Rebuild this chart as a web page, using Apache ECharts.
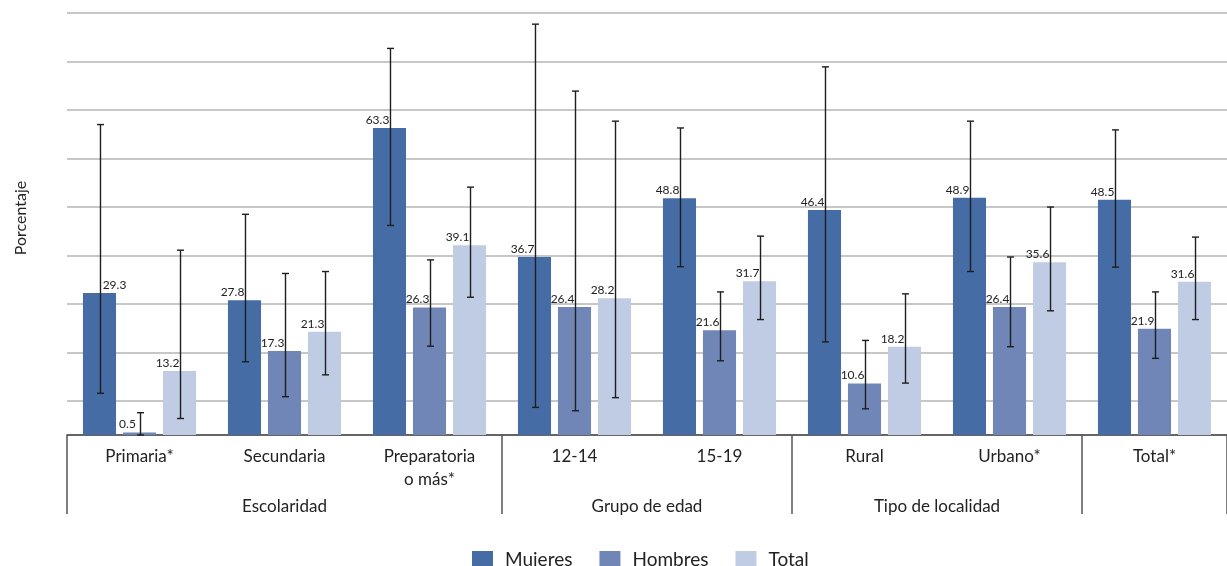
<!DOCTYPE html>
<html>
<head>
<meta charset="utf-8">
<script src="https://cdn.jsdelivr.net/npm/echarts@6/dist/echarts.min.js"></script>
<style>
html,body{margin:0;padding:0;background:#fff;}
#chart{width:1227px;height:566px;}
</style>
</head>
<body>
<div id="chart"></div>
<script>
// ---- data ----
var categories = ['Primaria*', 'Secundaria', 'Preparatoria\no más*', '12-14', '15-19', 'Rural', 'Urbano*', 'Total*'];
var groupNames = ['Escolaridad', 'Grupo de edad', 'Tipo de localidad', ''];
var groupSizes = [3, 2, 2, 1];
var seriesNames = ['Mujeres', 'Hombres', 'Total'];

var mujeres = [29.3, 27.8, 63.3, 36.7, 48.8, 46.4, 48.9, 48.5];
var hombres = [0.5, 17.3, 26.3, 26.4, 21.6, 10.6, 26.4, 21.9];
var total   = [13.2, 21.3, 39.1, 28.2, 31.7, 18.2, 35.6, 31.6];

var mujeresLow  = [8.6, 15.1, 43.2, 5.7, 34.7, 19.2, 33.7, 34.6];
var mujeresHigh = [64.0, 45.5, 79.7, 84.7, 63.3, 75.9, 64.7, 62.9];
var hombresLow  = [0.0, 7.9, 18.3, 5.0, 15.3, 5.4, 18.2, 15.8];
var hombresHigh = [4.6, 33.3, 36.1, 70.9, 29.5, 19.5, 36.7, 29.5];
var totalLow    = [3.4, 12.4, 28.4, 7.7, 23.8, 10.7, 25.6, 23.8];
var totalHigh   = [38.1, 33.7, 51.1, 64.7, 41.0, 29.1, 47.0, 40.8];

var gridLevels = [7, 17, 27, 37, 47, 57, 67, 77, 87];
var yMax = 87;

// ---- build ----
var colors = ['#466ca5', '#7086b7', '#c0cbe4'];
var FONT = 'Lato, "Open Sans", sans-serif';
var catGap = 0.22, barGapR = 0.21;

var boundaries = [0], centers = [];
(function(){
  var acc = 0;
  groupSizes.forEach(function(s){ centers.push(acc + s / 2); acc += s; boundaries.push(acc); });
})();

var errData = [];
[[mujeresLow, mujeresHigh], [hombresLow, hombresHigh], [totalLow, totalHigh]].forEach(function(p, k){
  p[0].forEach(function(lo, i){ errData.push([i, lo, p[1][i], k]); });
});

var labelCfg = {
  show: true, position: 'top', distance: 2, offset: [-12, 0],
  fontFamily: FONT, fontSize: 12, color: '#222'
};

function barSeries(name, values, color, idx) {
  return {
    name: name, type: 'bar', z: 2,
    barCategoryGap: (catGap * 100) + '%', barGap: (barGapR * 100) + '%',
    itemStyle: { color: color },
    label: labelCfg,
    data: values.map(function(v, i){
      if (idx === 0 && i === 0) return { value: v, label: { offset: [15, 0] } };
      return v;
    })
  };
}

var chart = echarts.init(document.getElementById('chart'));
chart.setOption({
  animation: false,
  textStyle: { fontFamily: FONT },
  color: colors,
  grid: { left: 67, right: 0, top: 13, bottom: 131, containLabel: false, outerBoundsMode: 'none' },
  legend: {
    data: seriesNames, top: 545, left: 467,
    icon: 'rect', itemWidth: 21, itemHeight: 17, itemGap: 27,
    textStyle: { fontSize: 19, color: '#222', fontFamily: FONT, padding: [0, 0, 0, 7] }
  },
  xAxis: [{
    type: 'category', data: categories, position: 'bottom',
    axisLine: { show: true, lineStyle: { color: '#333', width: 1.5 } },
    axisTick: { show: false },
    axisLabel: { interval: 0, margin: 10, fontSize: 17, color: '#222', lineHeight: 23, fontFamily: FONT }
  }, {
    type: 'value', position: 'bottom', min: 0, max: categories.length,
    axisLine: { show: false }, splitLine: { show: false },
    axisTick: { show: true, customValues: boundaries, length: 79, lineStyle: { color: '#555', width: 1.5 } },
    axisLabel: {
      customValues: centers, margin: 63, fontSize: 17, color: '#222', fontFamily: FONT,
      formatter: function(v){ var i = centers.indexOf(v); return i >= 0 ? groupNames[i] : ''; }
    }
  }],
  yAxis: {
    type: 'value', min: 0, max: yMax,
    name: 'Porcentaje', nameLocation: 'middle', nameGap: 38,
    nameTextStyle: { fontSize: 16, color: '#222', fontFamily: FONT, padding: [0, 0, 0, 12] },
    axisLine: { show: false }, axisTick: { show: false }, axisLabel: { show: false }, splitLine: { show: false }
  },
  series: [
    {
      name: 'grid', type: 'line', data: [], silent: true, z: 0,
      markLine: {
        silent: true, symbol: 'none', z: 0, animation: false,
        label: { show: false },
        lineStyle: { color: '#b4b4b4', width: 1.6, type: 'solid' },
        data: gridLevels.map(function(v){ return { yAxis: v }; })
      }
    },
    barSeries(seriesNames[0], mujeres, colors[0], 0),
    barSeries(seriesNames[1], hombres, colors[1], 1),
    barSeries(seriesNames[2], total, colors[2], 2),
    {
      name: 'error', type: 'custom', z: 5, silent: true,
      data: errData,
      renderItem: function(params, api){
        var cat = api.value(0), lo = api.value(1), hi = api.value(2), k = api.value(3);
        var band = api.size([1, 0])[0];
        var inner = band * (1 - catGap);
        var bw = inner / (3 + 2 * barGapR);
        var off = (k - 1) * bw * (1 + barGapR) + 1;
        var p1 = api.coord([cat, hi]), p2 = api.coord([cat, lo]);
        var x = p1[0] + off, cap = 3.5;
        var st = { stroke: '#1e1e1e', lineWidth: 1.4 };
        return { type: 'group', children: [
          { type: 'line', shape: { x1: x, y1: p1[1], x2: x, y2: p2[1] }, style: st },
          { type: 'line', shape: { x1: x - cap, y1: p1[1], x2: x + cap, y2: p1[1] }, style: st },
          { type: 'line', shape: { x1: x - cap, y1: p2[1], x2: x + cap, y2: p2[1] }, style: st }
        ]};
      }
    }
  ]
});
</script>
</body>
</html>
